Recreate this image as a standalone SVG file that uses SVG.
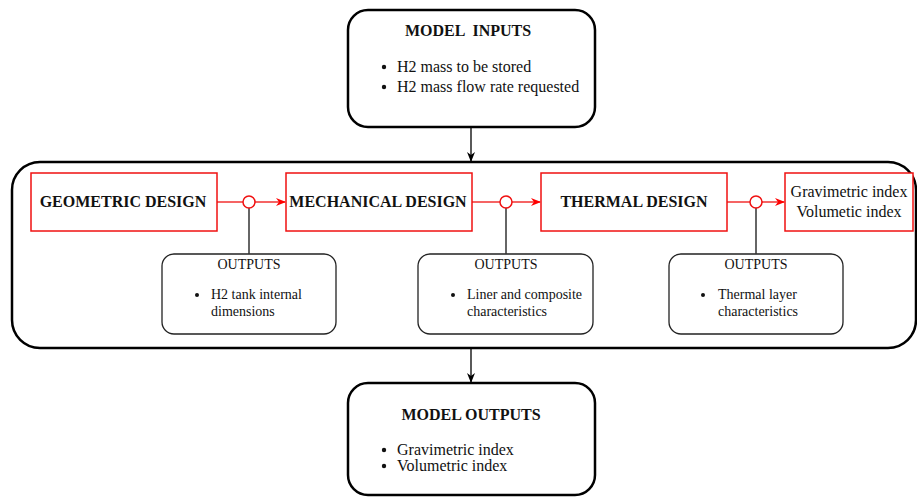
<svg xmlns="http://www.w3.org/2000/svg" width="917" height="498" viewBox="0 0 917 498">
<defs>
<marker id="ab" markerWidth="10" markerHeight="10" refX="9" refY="5" orient="auto" markerUnits="userSpaceOnUse"><path d="M0,1 L10,5 L0,9 L3,5 Z" fill="#000"/></marker>
<marker id="ar" markerWidth="10" markerHeight="10" refX="9" refY="5" orient="auto" markerUnits="userSpaceOnUse"><path d="M0,1 L10,5 L0,9 L3,5 Z" fill="#f00"/></marker>
</defs>
<style>
text{font-family:"Liberation Serif","Times New Roman",serif;fill:#111}
.big{stroke:#000;stroke-width:2.5;fill:#fff}
.red{stroke:#f01010;stroke-width:1.5;fill:#fff}
.out{stroke:#222;stroke-width:1.3;fill:#fff}
.t16{font-size:16px}
.b16{font-size:16px;font-weight:bold}
.t14{font-size:14px}
.rl{stroke:#f01010;stroke-width:1.3;fill:none}
.bl{stroke:#000;stroke-width:1.3;fill:none}
.gl{stroke:#333;stroke-width:1.5;fill:none}
</style>
<g id="container"><rect class="big" x="12" y="162" width="904" height="186" rx="28"/></g>
<g id="model-inputs">
<rect class="big" x="348" y="10" width="247" height="117" rx="20"/>
<text class="b16" x="468" y="36" text-anchor="middle" xml:space="preserve">MODEL  INPUTS</text>
<circle cx="384" cy="67" r="2.2" fill="#111"/>
<text class="t16" x="397" y="72">H2 mass to be stored</text>
<circle cx="384" cy="87" r="2.2" fill="#111"/>
<text class="t16" x="397" y="92">H2 mass flow rate requested</text>
</g>
<g id="geometric-design">
<rect class="red" x="31" y="173" width="186" height="58"/>
<text class="b16" x="123" y="207" text-anchor="middle">GEOMETRIC DESIGN</text>
</g>
<g id="mechanical-design">
<rect class="red" x="286" y="173" width="186" height="58"/>
<text class="b16" x="378" y="207" text-anchor="middle">MECHANICAL DESIGN</text>
</g>
<g id="thermal-design">
<rect class="red" x="541" y="173" width="186" height="58"/>
<text class="b16" x="634" y="207" text-anchor="middle">THERMAL DESIGN</text>
</g>
<g id="result">
<rect class="red" x="785" y="173" width="128" height="58"/>
<text class="t16" x="849" y="197" text-anchor="middle">Gravimetric index</text>
<text class="t16" x="849" y="217" text-anchor="middle">Volumetic index</text>
</g>
<g id="outputs-1">
<rect class="out" x="162" y="254" width="174" height="80" rx="12"/>
<text class="t14" x="249" y="269" text-anchor="middle">OUTPUTS</text>
<circle cx="197" cy="295" r="2" fill="#111"/>
<text class="t14" x="211" y="299">H2 tank internal</text>
<text class="t14" x="211" y="316">dimensions</text>
</g>
<g id="outputs-2">
<rect class="out" x="418" y="254" width="175" height="80" rx="12"/>
<text class="t14" x="506" y="269" text-anchor="middle">OUTPUTS</text>
<circle cx="453" cy="295" r="2" fill="#111"/>
<text class="t14" x="467" y="299">Liner and composite</text>
<text class="t14" x="467" y="316">characteristics</text>
</g>
<g id="outputs-3">
<rect class="out" x="669" y="254" width="174" height="80" rx="12"/>
<text class="t14" x="756" y="269" text-anchor="middle">OUTPUTS</text>
<circle cx="703" cy="295" r="2" fill="#111"/>
<text class="t14" x="718" y="299">Thermal layer</text>
<text class="t14" x="718" y="316">characteristics</text>
</g>
<g id="model-outputs">
<rect class="big" x="348" y="383" width="247" height="112" rx="20"/>
<text class="b16" x="471" y="420" text-anchor="middle">MODEL OUTPUTS</text>
<circle cx="384" cy="450" r="2.2" fill="#111"/>
<text class="t16" x="397" y="455">Gravimetric index</text>
<circle cx="384" cy="466" r="2.2" fill="#111"/>
<text class="t16" x="397" y="471">Volumetric index</text>
</g>
<g id="connectors">
<line class="bl" x1="471" y1="127" x2="471" y2="161" marker-end="url(#ab)"/>
<line class="bl" x1="471" y1="348" x2="471" y2="382" marker-end="url(#ab)"/>
<line class="rl" x1="217" y1="202" x2="243" y2="202"/>
<line class="rl" x1="255" y1="202" x2="285" y2="202" marker-end="url(#ar)"/>
<line class="gl" x1="249" y1="208" x2="249" y2="254"/>
<circle class="red" cx="249" cy="202" r="6"/>
<line class="rl" x1="472" y1="202" x2="500" y2="202"/>
<line class="rl" x1="512" y1="202" x2="540" y2="202" marker-end="url(#ar)"/>
<line class="gl" x1="506" y1="208" x2="506" y2="254"/>
<circle class="red" cx="506" cy="202" r="6"/>
<line class="rl" x1="727" y1="202" x2="750" y2="202"/>
<line class="rl" x1="762" y1="202" x2="784" y2="202" marker-end="url(#ar)"/>
<line class="gl" x1="756" y1="208" x2="756" y2="254"/>
<circle class="red" cx="756" cy="202" r="6"/>
</g>
</svg>
